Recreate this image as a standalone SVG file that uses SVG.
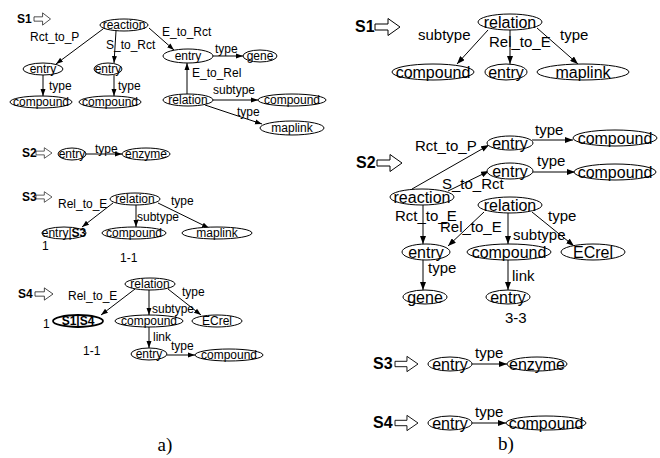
<svg xmlns="http://www.w3.org/2000/svg" width="660" height="458" viewBox="0 0 660 458">
<style>
.n{fill:#fff;stroke:#000;stroke-width:1}
.nb{fill:#fff;stroke:#000;stroke-width:1.8}
.ta{font-family:"Liberation Sans",Arial,sans-serif;font-size:12px;fill:#000}
.tb{font-family:"Liberation Sans",Arial,sans-serif;font-size:16px;fill:#000}
.la{font-family:"Liberation Sans",Arial,sans-serif;font-size:12px;fill:#000}
.lb{font-family:"Liberation Sans",Arial,sans-serif;font-size:15px;fill:#000}
.c{text-anchor:middle}
.sa{font-family:"Liberation Sans",Arial,sans-serif;font-size:12px;font-weight:bold}
.sb{font-family:"Liberation Sans",Arial,sans-serif;font-size:16px;font-weight:bold}
.ea{stroke:#000;stroke-width:1;fill:none;marker-end:url(#ma)}
.eb{stroke:#000;stroke-width:1;fill:none;marker-end:url(#mb)}
.ho{fill:#fff;stroke:#000;stroke-width:1}
.cap{font-family:"Liberation Serif","Times New Roman",serif;font-size:19px;text-anchor:middle}
</style>
<defs>
<marker id="ma" markerUnits="userSpaceOnUse" markerWidth="7" markerHeight="6" refX="7" refY="3" orient="auto"><path d="M0,0.5 L7,3 L0,5.5 z" fill="#000"/></marker>
<marker id="mb" markerUnits="userSpaceOnUse" markerWidth="8" markerHeight="6" refX="8" refY="3" orient="auto"><path d="M0,0 L8,3 L0,6 z" fill="#000"/></marker>
<path id="hol" d="M0,-3 H13 V-8.5 L25,0 L13,8.5 V3 H0 Z"/>
</defs>

<g id="stage-labels">
<text class="sa" x="17" y="23">S1</text>
<use href="#hol" class="ho" transform="translate(34,19) scale(0.66,0.72)"/>
<text class="sa" x="22" y="157">S2</text>
<use href="#hol" class="ho" transform="translate(36,153) scale(0.64,0.62)"/>
<text class="sa" x="22" y="201">S3</text>
<use href="#hol" class="ho" transform="translate(36,197) scale(0.64,0.62)"/>
<text class="sa" x="18" y="298">S4</text>
<use href="#hol" class="ho" transform="translate(35,294) scale(0.72,0.72)"/>

<text class="sb" x="355" y="32">S1</text>
<use href="#hol" class="ho" transform="translate(375,27)"/>
<text class="sb" x="356" y="168">S2</text>
<use href="#hol" class="ho" transform="translate(377,163)"/>
<text class="sb" x="373" y="369">S3</text>
<use href="#hol" class="ho" transform="translate(395,364) scale(0.92,0.9)"/>
<text class="sb" x="373" y="428">S4</text>
<use href="#hol" class="ho" transform="translate(395,423) scale(0.92,0.9)"/>

<text class="cap" x="165" y="451">a)</text>
<text class="cap" x="506" y="450">b)</text>
</g>

<g id="connectors">
<line class="ea" x1="103" y1="29" x2="56" y2="64"/>
<line class="ea" x1="116" y1="31" x2="114" y2="63"/>
<line class="ea" x1="149" y1="28" x2="174" y2="50"/>
<line class="ea" x1="43" y1="75" x2="43" y2="96"/>
<line class="ea" x1="114" y1="75" x2="114" y2="96"/>
<line class="ea" x1="213" y1="56" x2="243" y2="56"/>
<line class="ea" x1="187" y1="94" x2="187" y2="63"/>
<line class="ea" x1="213" y1="100" x2="258" y2="100"/>
<line class="ea" x1="205" y1="105" x2="262" y2="124"/>
<line class="ea" x1="86" y1="154" x2="122" y2="154"/>
<line class="ea" x1="113" y1="203" x2="82" y2="227"/>
<line class="ea" x1="136" y1="205" x2="136" y2="227"/>
<line class="ea" x1="158" y1="203" x2="209" y2="228"/>
<line class="ea" x1="135" y1="289" x2="101" y2="315"/>
<line class="ea" x1="149" y1="290" x2="149" y2="315"/>
<line class="ea" x1="168" y1="289" x2="201" y2="315"/>
<line class="ea" x1="149" y1="327" x2="149" y2="348"/>
<line class="ea" x1="167" y1="355" x2="195" y2="355"/>
<line class="eb" x1="488" y1="30" x2="457" y2="64"/>
<line class="eb" x1="510" y1="30" x2="510" y2="64"/>
<line class="eb" x1="537" y1="28" x2="578" y2="64"/>
<line class="eb" x1="412" y1="189" x2="489" y2="145"/>
<line class="eb" x1="448" y1="191" x2="489" y2="171"/>
<line class="eb" x1="532" y1="140" x2="573" y2="140"/>
<line class="eb" x1="532" y1="172" x2="575" y2="172"/>
<line class="eb" x1="423" y1="205" x2="423" y2="244"/>
<line class="eb" x1="484" y1="212" x2="448" y2="246"/>
<line class="eb" x1="508" y1="213" x2="508" y2="244"/>
<line class="eb" x1="532" y1="212" x2="574" y2="246"/>
<line class="eb" x1="423" y1="260" x2="423" y2="290"/>
<line class="eb" x1="508" y1="260" x2="508" y2="290"/>
<line class="eb" x1="472" y1="364" x2="507" y2="364"/>
<line class="eb" x1="472" y1="423" x2="506" y2="423"/>
</g>

<g id="edge-labels">
<text class="la" x="30" y="41">Rct_to_P</text>
<text class="la" x="106" y="49">S_to_Rct</text>
<text class="la" x="162" y="36">E_to_Rct</text>
<text class="la" x="49" y="90">type</text>
<text class="la" x="118" y="90">type</text>
<text class="la" x="215" y="53">type</text>
<text class="la" x="192" y="77">E_to_Rel</text>
<text class="la" x="213" y="94">subtype</text>
<text class="la" x="237" y="116">type</text>
<text class="la" x="95" y="153">type</text>
<text class="la" x="58" y="208">Rel_to_E</text>
<text class="la" x="171" y="205">type</text>
<text class="la" x="137" y="221">subtype</text>
<text class="la" x="42" y="250">1</text>
<text class="la" x="120" y="262">1-1</text>
<text class="la" x="68" y="300">Rel_to_E</text>
<text class="la" x="182" y="296">type</text>
<text class="la" x="152" y="313">subtype</text>
<text class="la" x="43" y="328">1</text>
<text class="la" x="153" y="341">link</text>
<text class="la" x="171" y="350">type</text>
<text class="la" x="83" y="355">1-1</text>

<text class="lb" x="418" y="40">subtype</text>
<text class="lb" x="489" y="47">Rel_to_E</text>
<text class="lb" x="560" y="40">type</text>
<text class="lb" x="535" y="135">type</text>
<text class="lb" x="415" y="151">Rct_to_P</text>
<text class="lb" x="537" y="166">type</text>
<text class="lb" x="442" y="189">S_to_Rct</text>
<text class="lb" x="395" y="221">Rct_to_E</text>
<text class="lb" x="440" y="232">Rel_to_E</text>
<text class="lb" x="548" y="221">type</text>
<text class="lb" x="513" y="240">subtype</text>
<text class="lb" x="428" y="273">type</text>
<text class="lb" x="512" y="281">link</text>
<text class="lb" x="505" y="323">3-3</text>
<text class="lb" x="475" y="358">type</text>
<text class="lb" x="475" y="417">type</text>
</g>

<g id="a-s1-reaction"><ellipse class="n" cx="124" cy="25" rx="24" ry="6"/><text class="ta c" x="124" y="29">reaction</text></g>
<g id="a-s1-entry1"><ellipse class="n" cx="43" cy="69" rx="20" ry="6"/><text class="ta c" x="43" y="73">entry</text></g>
<g id="a-s1-entry2"><ellipse class="n" cx="108" cy="69" rx="14" ry="6"/><text class="ta c" x="108" y="73">entry</text></g>
<g id="a-s1-compound1"><ellipse class="n" cx="41" cy="102" rx="31" ry="6"/><text class="ta c" x="41" y="106">compound</text></g>
<g id="a-s1-compound2"><ellipse class="n" cx="110" cy="102" rx="31" ry="6"/><text class="ta c" x="110" y="106">compound</text></g>
<g id="a-s1-entry3"><ellipse class="n" cx="188" cy="56" rx="25" ry="7"/><text class="ta c" x="188" y="60">entry</text></g>
<g id="a-s1-gene"><ellipse class="n" cx="260" cy="56" rx="17" ry="6"/><text class="ta c" x="260" y="60">gene</text></g>
<g id="a-s1-relation"><ellipse class="n" cx="188" cy="100" rx="25" ry="6"/><text class="ta c" x="188" y="104">relation</text></g>
<g id="a-s1-compound3"><ellipse class="n" cx="292" cy="100" rx="34" ry="6"/><text class="ta c" x="292" y="104">compound</text></g>
<g id="a-s1-maplink"><ellipse class="n" cx="292" cy="128" rx="32" ry="7"/><text class="ta c" x="292" y="132">maplink</text></g>

<g id="a-s2-entry"><ellipse class="n" cx="72" cy="154" rx="14" ry="6"/><text class="ta c" x="72" y="158">entry</text></g>
<g id="a-s2-enzyme"><ellipse class="n" cx="146" cy="154" rx="24" ry="6"/><text class="ta c" x="146" y="158">enzyme</text></g>

<g id="a-s3-relation"><ellipse class="n" cx="135" cy="199" rx="25" ry="6"/><text class="ta c" x="135" y="203">relation</text></g>
<g id="a-s3-entry"><ellipse class="n" cx="64" cy="233" rx="22" ry="6"/><text class="ta c" x="64" y="237">entry|<tspan font-weight="bold">S3</tspan></text></g>
<g id="a-s3-compound"><ellipse class="n" cx="134" cy="233" rx="32" ry="6"/><text class="ta c" x="134" y="237">compound</text></g>
<g id="a-s3-maplink"><ellipse class="n" cx="217" cy="233" rx="35" ry="6"/><text class="ta c" x="217" y="237">maplink</text></g>

<g id="a-s4-relation"><ellipse class="n" cx="150" cy="284" rx="25" ry="6"/><text class="ta c" x="150" y="288">relation</text></g>
<g id="a-s4-s1s4"><ellipse class="nb" cx="78" cy="321" rx="25" ry="6"/><text class="ta c" x="78" y="325" font-weight="bold">S1|S4</text></g>
<g id="a-s4-compound"><ellipse class="n" cx="149" cy="321" rx="34" ry="6"/><text class="ta c" x="149" y="325">compound</text></g>
<g id="a-s4-ecrel"><ellipse class="n" cx="217" cy="321" rx="25" ry="6"/><text class="ta c" x="217" y="325">ECrel</text></g>
<g id="a-s4-entry"><ellipse class="n" cx="149" cy="354" rx="18" ry="6"/><text class="ta c" x="149" y="358">entry</text></g>
<g id="a-s4-compound2"><ellipse class="n" cx="229" cy="355" rx="34" ry="6"/><text class="ta c" x="229" y="359">compound</text></g>

<g id="b-s1-relation"><ellipse class="n" cx="510" cy="22" rx="32" ry="8"/><text class="tb c" x="510" y="28">relation</text></g>
<g id="b-s1-compound"><ellipse class="n" cx="433" cy="72" rx="41" ry="8"/><text class="tb c" x="433" y="78">compound</text></g>
<g id="b-s1-entry"><ellipse class="n" cx="506" cy="72" rx="21" ry="8"/><text class="tb c" x="506" y="78">entry</text></g>
<g id="b-s1-maplink"><ellipse class="n" cx="583" cy="72" rx="46" ry="8"/><text class="tb c" x="583" y="78">maplink</text></g>

<g id="b-s2-entry1"><ellipse class="n" cx="510" cy="143" rx="23" ry="7"/><text class="tb c" x="510" y="149">entry</text></g>
<g id="b-s2-compound1"><ellipse class="n" cx="615" cy="138" rx="42" ry="8"/><text class="tb c" x="615" y="144">compound</text></g>
<g id="b-s2-entry2"><ellipse class="n" cx="510" cy="171" rx="23" ry="8"/><text class="tb c" x="510" y="177">entry</text></g>
<g id="b-s2-compound2"><ellipse class="n" cx="615" cy="172" rx="41" ry="8"/><text class="tb c" x="615" y="178">compound</text></g>
<g id="b-s2-reaction"><ellipse class="n" cx="422" cy="197" rx="32" ry="8"/><text class="tb c" x="422" y="203">reaction</text></g>
<g id="b-s2-relation"><ellipse class="n" cx="510" cy="205" rx="32" ry="8"/><text class="tb c" x="510" y="211">relation</text></g>
<g id="b-s2-entry3"><ellipse class="n" cx="426" cy="252" rx="24" ry="8"/><text class="tb c" x="426" y="258">entry</text></g>
<g id="b-s2-compound3"><ellipse class="n" cx="509" cy="252" rx="42" ry="8"/><text class="tb c" x="509" y="258">compound</text></g>
<g id="b-s2-ecrel"><ellipse class="n" cx="593" cy="252" rx="32" ry="8"/><text class="tb c" x="593" y="258">ECrel</text></g>
<g id="b-s2-gene"><ellipse class="n" cx="425" cy="297" rx="22" ry="7"/><text class="tb c" x="425" y="303">gene</text></g>
<g id="b-s2-entry4"><ellipse class="n" cx="508" cy="297" rx="22" ry="7"/><text class="tb c" x="508" y="303">entry</text></g>

<g id="b-s3-entry"><ellipse class="n" cx="450" cy="364" rx="22" ry="7"/><text class="tb c" x="450" y="370">entry</text></g>
<g id="b-s3-enzyme"><ellipse class="n" cx="537" cy="364" rx="30" ry="7"/><text class="tb c" x="537" y="370">enzyme</text></g>
<g id="b-s4-entry"><ellipse class="n" cx="450" cy="423" rx="22" ry="7"/><text class="tb c" x="450" y="429">entry</text></g>
<g id="b-s4-compound"><ellipse class="n" cx="546" cy="423" rx="40" ry="7"/><text class="tb c" x="546" y="429">compound</text></g>
</svg>
